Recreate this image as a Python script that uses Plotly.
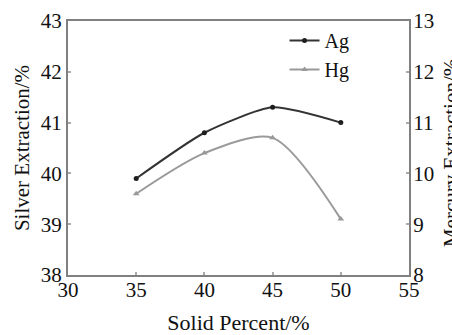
import plotly.graph_objects as go

solid_percent = [35, 40, 45, 50]
ag_extraction = [39.9, 40.8, 41.3, 41.0]
hg_extraction = [9.6, 10.4, 10.7, 9.1]

x_ticks = [30, 35, 40, 45, 50, 55]
y1_ticks = [38, 39, 40, 41, 42, 43]
y2_ticks = [8, 9, 10, 11, 12, 13]

serif = "Liberation Serif, Times New Roman, serif"
axis_col = "#808080"
txt = "#111111"

fig = go.Figure()
fig.add_trace(go.Scatter(
    x=solid_percent, y=ag_extraction, name="Ag", mode="lines+markers",
    line=dict(color="#333333", width=2, shape="spline", smoothing=0.6),
    marker=dict(symbol="circle", size=5, color="#1e1e1e"),
))
fig.add_trace(go.Scatter(
    x=solid_percent, y=hg_extraction, name="Hg", mode="lines+markers", yaxis="y2",
    line=dict(color="#9a9a9a", width=2, shape="spline", smoothing=0.8),
    marker=dict(symbol="triangle-up", size=6, color="#999999"),
))

axis_common = dict(
    showgrid=False, zeroline=False, showline=True, linecolor=axis_col, linewidth=2,
    ticks="inside", ticklen=3, tickwidth=2, tickcolor="#aaaaaa", automargin=False,
    tickfont=dict(family=serif, size=21, color=txt),
)

fig.update_layout(
    width=452, height=335,
    margin=dict(l=68, r=43, t=21, b=60, autoexpand=False),
    paper_bgcolor="white", plot_bgcolor="white",
    font=dict(family=serif, color=txt),
    showlegend=True,
    legend=dict(x=0.635, y=1.0, xanchor="left", yanchor="top",
                bgcolor="rgba(0,0,0,0)", font=dict(family=serif, size=20, color=txt),
                tracegroupgap=0, itemwidth=30),
    xaxis=dict(range=[30, 55], tickvals=x_ticks, mirror=True, ticklabelstandoff=-5,
               **axis_common,
               title=dict(text="Solid Percent/%", font=dict(family=serif, size=22, color=txt),
                          standoff=28)),
    yaxis=dict(range=[38, 43], tickvals=y1_ticks, **axis_common,
               title=dict(text="Silver Extraction/%", font=dict(family=serif, size=21, color=txt),
                          standoff=5)),
    yaxis2=dict(range=[8, 13], tickvals=y2_ticks, overlaying="y", side="right",
                ticklabelstandoff=-2, **axis_common),
)

fig.add_annotation(
    text="Mercury Extraction/%", textangle=-90, xref="paper", yref="paper",
    x=1.0, y=0.48, xshift=28, xanchor="left", yanchor="middle", showarrow=False,
    font=dict(family=serif, size=21, color=txt),
)

fig.write_html("out.html")
